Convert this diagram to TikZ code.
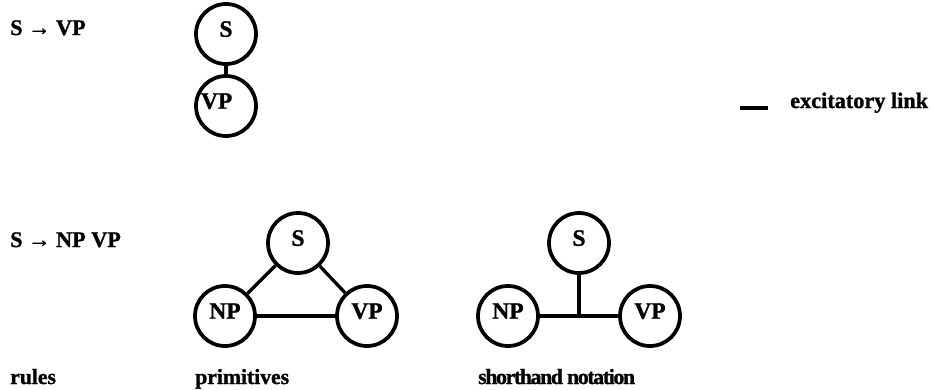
\documentclass[tikz,border=0pt]{standalone}
\usepackage{fontspec}
\setmainfont{Liberation Serif}
\usetikzlibrary{positioning}
\newcommand{\heavy}{\bfseries\addfontfeature{FakeBold=1.2}}
\tikzset{
  unit/.style={circle,draw,line width=3.2pt,minimum size=1.8cm,inner sep=0pt,text depth=0.3cm,
               font=\fontsize{20}{22}\selectfont\heavy},
  link/.style={line width=2.8pt},
  rulelabel/.style={anchor=base west,inner sep=0pt,font=\fontsize{19}{22}\selectfont\heavy},
  caption/.style={rulelabel,font=\fontsize{18.5}{22}\selectfont\heavy},
}

\begin{document}
\begin{tikzpicture}[x=0.03cm,y=-0.03cm]
  \useasboundingbox (0,0) rectangle (934,389);
  % S -> VP
  \node[rulelabel] (rule1) at (10,35) {S → VP};
  \node[unit] (s1) at (226,34) {S};
  \node[unit] (vp1) at (226,106) {\makebox[1.5cm][l]{VP}};
  \draw[link] (s1) -- (vp1);
  % legend
  \coordinate (leg1) at (740,108);
  \coordinate (leg2) at (768,108);
  \draw[link] (leg1) -- (leg2);
  \node[rulelabel] (legtext) at (790,108) {excitatory link};
  % S -> NP VP as primitives
  \node[rulelabel] (rule2) at (10,247) {S → NP VP};
  \node[unit] (s2) at (298,243) {S};
  \node[unit] (np2) at (225,316) {NP};
  \node[unit] (vp2) at (367,316) {VP};
  \draw[link] (s2) -- (np2);
  \draw[link] (s2) -- (vp2);
  \draw[link] (np2) -- (vp2);
  % same rule, shorthand
  \node[unit] (s3) at (579,243) {S};
  \node[unit] (np3) at (508,316) {NP};
  \node[unit] (vp3) at (650,316) {VP};
  \coordinate (join) at (s3 |- np3);
  \draw[link] (np3) -- (vp3);
  \draw[link] (s3) -- (join);
  % column captions
  \node[caption] (cap1) at (10,384) {rules};
  \node[caption] (cap2) at (195,384) {primitives};
  \node[caption] (cap3) at (478,384) {\addfontfeature{LetterSpace=-6}shorthand notation};
\end{tikzpicture}
\end{document}
